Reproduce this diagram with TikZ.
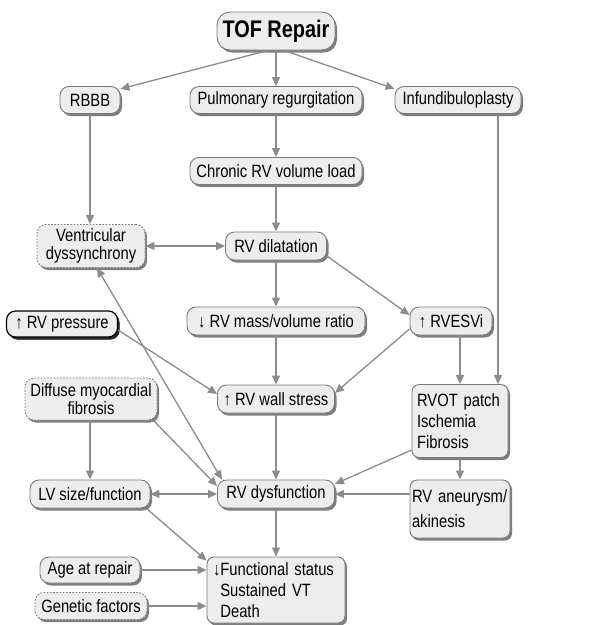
\documentclass[tikz,border=0pt]{standalone}
\usepackage{fontspec}
\setmainfont{Liberation Sans}[FakeStretch=0.83]
\usetikzlibrary{shadows,arrows.meta}
\definecolor{boxfill}{HTML}{EDEDED}
\definecolor{boxline}{HTML}{7A7A7A}
\definecolor{shadowc}{HTML}{7E7E7E}
\definecolor{linec}{HTML}{8C8C8C}
\newcommand{\txt}{\fontsize{17.8}{21}\selectfont}
\begin{document}
\begin{tikzpicture}[x=1pt,y=-1pt,
  >={Triangle[length=9pt,width=8pt]},
  box/.style={draw=boxline, line width=0.9pt, fill=boxfill, rounded corners=9pt,
    inner sep=2pt, font=\txt, align=center,
    drop shadow={shadow xshift=2pt, shadow yshift=-2.5pt, fill=shadowc, opacity=1}},
  dbox/.style={box, dash pattern=on 1.6pt off 1.6pt},
  conn/.style={draw=linec, line width=1.3pt, ->},
  dconn/.style={draw=linec, line width=1.3pt, <->},
]
\fill[white] (0,0) rectangle (616,625);
\useasboundingbox (0,0) rectangle (616,625);

\node[box, font=\bfseries\fontsize{24}{28}\selectfont, minimum width=118pt, minimum height=38pt, rounded corners=13pt] (tof) at (276,31) {TOF Repair};
\node[box, minimum width=60pt, minimum height=27pt] (rbbb) at (90,100) {RBBB};
\node[box, minimum width=172pt, minimum height=27pt] (pulm) at (276,100) {Pulmonary regurgitation};
\node[box, minimum width=126pt, minimum height=27pt] (inf) at (458,100) {Infundibuloplasty};
\node[box, minimum width=172pt, minimum height=27pt] (chr) at (276,171) {Chronic RV volume load};
\node[dbox, minimum width=108pt, minimum height=43pt, font=\fontsize{17.8}{18.5}\selectfont] (vent) at (91,246) {Ventricular\\dyssynchrony};
\node[box, minimum width=101pt, minimum height=28pt] (dil) at (276,246) {RV dilatation};
\node[box, minimum width=178pt, minimum height=28pt] (mass) at (276,321) {↓ RV mass/volume ratio};
\node[box, draw=black, line width=1.2pt, minimum width=111pt, minimum height=26pt,
  drop shadow={shadow xshift=2pt, shadow yshift=-2.5pt, fill=black!85, opacity=1}] (pres) at (62,324) {↑ RV pressure};
\node[box, minimum width=82pt, minimum height=28pt] (esv) at (451,321) {↑ RVESVi};
\node[box, minimum width=117pt, minimum height=28pt] (wall) at (276,399) {↑ RV wall stress};
\node[dbox, minimum width=132pt, minimum height=42pt, font=\fontsize{17.8}{18.5}\selectfont] (dif) at (91,399) {Diffuse myocardial\\fibrosis};
\node[box, text width=86pt, align=left, inner xsep=5pt, minimum height=73pt, rounded corners=7pt] (rvot) at (460,421) {RVOT patch\\Ischemia\\Fibrosis};
\node[box, minimum width=120pt, minimum height=28pt] (lv) at (90,494) {LV size/function};
\node[box, minimum width=117pt, minimum height=28pt] (dys) at (276,494) {RV dysfunction};
\node[box, text width=96pt, align=left, inner xsep=2pt, minimum height=58pt, rounded corners=7pt, font=\fontsize{17.8}{25}\selectfont] (aneu) at (460,509) {RV aneurysm/\\akinesis};
\node[box, minimum width=100pt, minimum height=26pt] (age) at (90,570) {Age at repair};
\node[dbox, minimum width=112pt, minimum height=27pt] (gen) at (91,606) {Genetic factors};
\node[box, text width=126pt, align=left, inner xsep=6pt, minimum height=66pt, rounded corners=7pt] (fun) at (276,590) {↓Functional status\\\phantom{↓}Sustained VT\\\phantom{↓}Death};

\draw[conn] ([xshift=-8pt]tof.south) -- (rbbb.20);
\draw[conn] (tof) -- (pulm);
\draw[conn] ([xshift=8pt]tof.south) -- (inf.170);
\draw[conn] (pulm) -- (chr);
\draw[conn] (rbbb.south) -- (rbbb.south |- vent.north);
\draw[conn] (chr) -- (dil);
\draw[conn] ([xshift=40pt]inf.south) -- ([xshift=40pt]inf.south |- rvot.north);
\draw[dconn] (vent) -- (dil);
\draw[conn] (dil) -- (mass);
\draw[conn] ([yshift=-10pt]dil.east) -- ([yshift=6pt]esv.west);
\draw[conn] ([yshift=-6pt]pres.east) -- ([yshift=5pt]wall.west);
\draw[conn] (mass) -- (wall);
\draw[conn] ([yshift=-8pt]esv.west) -- ([yshift=6pt]wall.east);
\draw[conn] (esv.south -| rvot.north) -- (rvot.north);
\draw[dconn] ([xshift=6pt]vent.south) -- ([xshift=-54pt]dys.north);
\draw[conn] ([xshift=-4pt]dif.south east) -- ([yshift=8pt]dys.west);
\draw[conn] (dif.south -| lv.north) -- (lv.north);
\draw[conn] (wall) -- (dys);
\draw[conn] ([yshift=-29pt]rvot.west) -- ([yshift=10pt]dys.east);
\draw[conn] (rvot.south) -- (rvot.south |- aneu.north);
\draw[conn] (aneu.west |- dys.east) -- (dys.east);
\draw[dconn] (lv) -- (dys);
\draw[conn] ([xshift=-4pt]lv.south east) -- ([yshift=-4pt]fun.north west);
\draw[conn] (dys) -- (fun);
\draw[conn] (age) -- (age -| fun.west);
\draw[conn] (gen) -- (gen -| fun.west);
\end{tikzpicture}
\end{document}
